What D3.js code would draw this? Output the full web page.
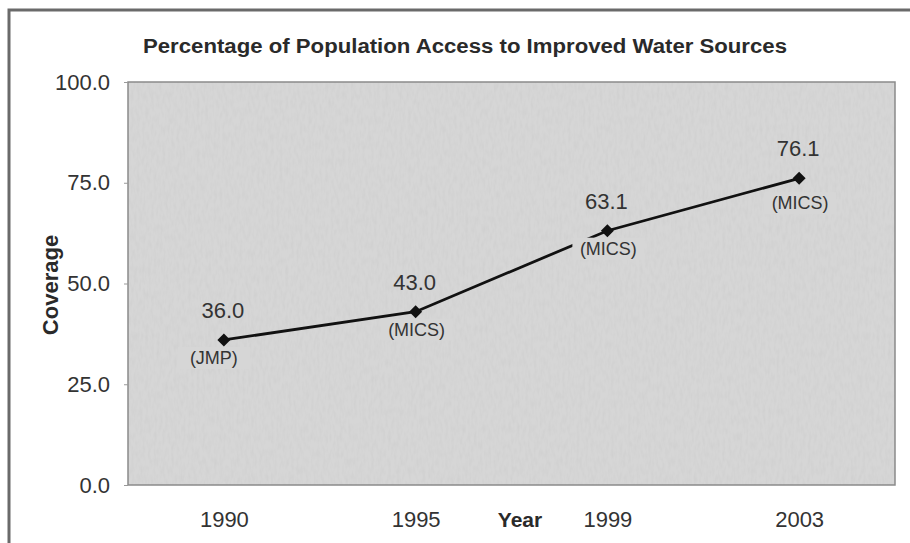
<!DOCTYPE html>
<html>
<head>
<meta charset="utf-8">
<title>Water sources</title>
<style>
body { margin: 0; background: #fff; }
text { font-family: "Liberation Sans", Arial, sans-serif; fill: #333; }
.tick text { font-size: 22px; fill: #333; }
</style>
</head>
<body>
<script src="https://cdn.jsdelivr.net/npm/d3@7/dist/d3.min.js"></script>
<script>

var years = ["1990", "1995", "1999", "2003"];
var coverage = [36.0, 43.0, 63.1, 76.1];
var sources = ["(JMP)", "(MICS)", "(MICS)", "(MICS)"];
var yTicks = [0, 25, 50, 75, 100];

var width = 910,
    height = 543;

var margin = {top: 82, right: 15, bottom: 58, left: 128};
var plotFill = "#d6d6d6";

var svg = d3.select("body").append("svg")
    .attr("width", width)
    .attr("height", height);

// grainy paper look for the plot area
var defs = svg.append("defs");
var grain = defs.append("filter").attr("id", "grain")
    .attr("x", 0).attr("y", 0).attr("width", 1).attr("height", 1);
grain.append("feTurbulence")
    .attr("type", "fractalNoise")
    .attr("baseFrequency", "0.35 0.12")
    .attr("numOctaves", 2)
    .attr("seed", 4);
grain.append("feColorMatrix")
    .attr("values", "0 0 0 0 0.55  0 0 0 0 0.55  0 0 0 0 0.55  0 0 0 0.6 -0.22");

// outer frame (top and left only)
svg.append("path")
    .attr("d", "M9,543V10H910")
    .attr("fill", "none")
    .attr("stroke", "#6a6a6a")
    .attr("stroke-width", 3);

var x = d3.scalePoint()
    .domain(years)
    .range([margin.left, width - margin.right])
    .padding(0.5);

var y = d3.scaleLinear()
    .domain([0, 100])
    .range([height - margin.bottom, margin.top]);

var pw = width - margin.right - margin.left,
    ph = y(0) - y(100);

// plot area
svg.append("rect")
    .attr("x", margin.left)
    .attr("y", margin.top)
    .attr("width", pw)
    .attr("height", ph)
    .attr("fill", plotFill);

svg.append("rect")
    .attr("x", margin.left)
    .attr("y", margin.top)
    .attr("width", pw)
    .attr("height", ph)
    .attr("filter", "url(#grain)");

svg.append("rect")
    .attr("x", margin.left)
    .attr("y", margin.top)
    .attr("width", pw)
    .attr("height", ph)
    .attr("fill", "none")
    .attr("stroke", "#8a8a8a")
    .attr("stroke-width", 1.5);

svg.append("text")
    .attr("x", 465)
    .attr("y", 53)
    .attr("text-anchor", "middle")
    .attr("textLength", 644)
    .attr("lengthAdjust", "spacingAndGlyphs")
    .style("font-size", "20px")
    .style("font-weight", "bold")
    .style("fill", "#2a2a2a")
    .text("Percentage of Population Access to Improved Water Sources");

// y axis
var yAxis = svg.append("g")
    .attr("transform", "translate(" + margin.left + ",0)")
    .call(d3.axisLeft(y).tickValues(yTicks).tickFormat(d3.format(".1f")).tickSize(4).tickPadding(14));
yAxis.select(".domain").remove();
yAxis.selectAll("line").attr("stroke", "#999");

// x axis
var xAxis = svg.append("g")
    .attr("transform", "translate(0," + y(0) + ")")
    .call(d3.axisBottom(x).tickSize(0).tickPadding(26));
xAxis.select(".domain").remove();

svg.append("text")
    .attr("transform", "translate(58," + 285 + ") rotate(-90)")
    .attr("text-anchor", "middle")
    .style("font-size", "22px")
    .style("font-weight", "bold")
    .style("fill", "#2a2a2a")
    .text("Coverage");

svg.append("text")
    .attr("x", 520)
    .attr("y", y(0) + 42)
    .attr("text-anchor", "middle")
    .style("font-size", "21px")
    .style("font-weight", "bold")
    .style("fill", "#2a2a2a")
    .text("Year");

var data = years.map(function(d, i) {
  return {year: d, value: coverage[i], source: sources[i]};
});

var line = d3.line()
    .x(function(d) { return x(d.year); })
    .y(function(d) { return y(d.value); });

svg.append("path")
    .datum(data)
    .attr("d", line)
    .attr("fill", "none")
    .attr("stroke", "#111")
    .attr("stroke-width", 2.8);

svg.selectAll(".val")
    .data(data)
    .enter().append("text")
    .attr("class", "val")
    .attr("x", function(d) { return x(d.year) - 1; })
    .attr("y", function(d) { return y(d.value) - 22; })
    .attr("text-anchor", "middle")
    .style("font-size", "22px")
    .text(function(d) { return d.value.toFixed(1); });

// source labels sit on a box of the plot colour, hiding the line beneath
var src = svg.selectAll(".src")
    .data(data)
    .enter().append("g")
    .attr("class", "src")
    .attr("transform", function(d, i) {
      var dx = i === 0 ? -10 : 1;
      var dy = i === data.length - 1 ? 31 : 24;
      return "translate(" + (x(d.year) + dx) + "," + (y(d.value) + dy) + ")";
    });

src.append("rect")
    .attr("x", -36)
    .attr("y", -17)
    .attr("width", 72)
    .attr("height", 22)
    .attr("fill", plotFill);

src.append("text")
    .attr("text-anchor", "middle")
    .style("font-size", "18px")
    .text(function(d) { return d.source; });

svg.selectAll(".marker")
    .data(data)
    .enter().append("path")
    .attr("class", "marker")
    .attr("transform", function(d) { return "translate(" + x(d.year) + "," + y(d.value) + ") rotate(45)"; })
    .attr("d", d3.symbol().type(d3.symbolSquare).size(85))
    .attr("fill", "#111");

</script>
</body>
</html>
